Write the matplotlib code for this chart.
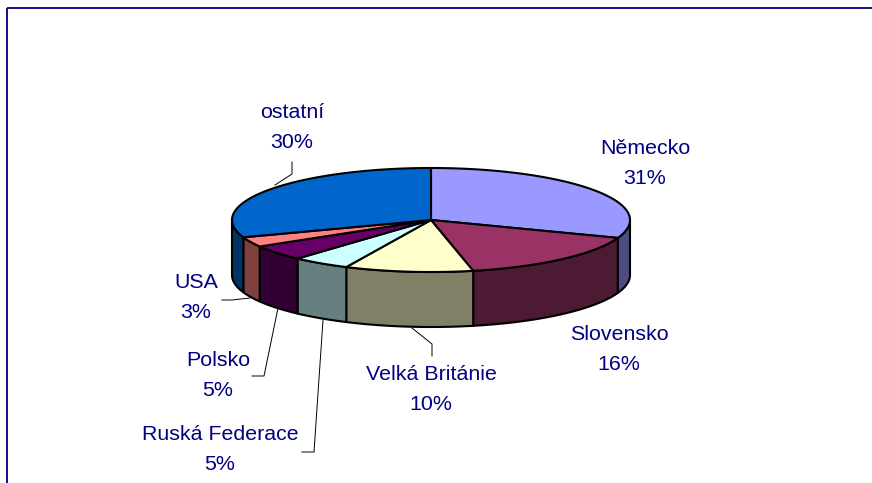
import numpy as np
import matplotlib
matplotlib.use("Agg")
import matplotlib.pyplot as plt
from matplotlib.patches import Polygon

plt.rcParams['font.family'] = ['Liberation Sans', 'DejaVu Sans']

categories = ["Německo", "Slovensko", "Velká Británie", "Ruská Federace", "Polsko", "USA", "ostatní"]
shares = [30.6, 16.0, 10.4, 4.7, 4.8, 3.1, 30.4]
top_colors = ["#9999FF", "#993366", "#FFFFCC", "#CCFFFF", "#660066", "#FF8080", "#0066CC"]
side_colors = ["#4D4D80", "#4D1A33", "#808066", "#668080", "#330033", "#804040", "#003366"]

# label centres in pixels
label_x = [645, 619, 431, 220, 218, 196, 292]
label_y = [148, 335, 375, 435, 360, 283, 112]

# leader lines, pixels
leaders = [
    [(432, 356), (432, 344), (412, 328)],
    [(302, 452), (314, 452), (323, 320)],
    [(252, 376), (264, 376), (278, 308)],
    [(222, 300), (232, 300), (250, 298)],
    [(292, 162), (292, 174), (275, 185)],
]

cx, cy = 431, 220
rx, ry = 199, 52
depth = 55
navy = "#000080"

fig = plt.figure(figsize=(8.72, 4.83), dpi=100)
ax = fig.add_axes([0, 0, 1, 1])
ax.set_xlim(0, 872)
ax.set_ylim(483, 0)
ax.axis("off")


def rim(a, b, dy=0):
    # angles in degrees, clockwise from the top of the ellipse
    t = np.radians(np.linspace(a, b, max(int(abs(b - a)) * 2, 2)))
    return np.column_stack([cx + rx * np.sin(t), cy - ry * np.cos(t) + dy])


edges = np.concatenate([[0], np.cumsum(shares)]) * 3.6

# border of the chart area
ax.plot([7, 7], [483, 8], color=navy, lw=1.3, solid_capstyle="butt")
ax.plot([7, 872], [8, 8], color=navy, lw=1.3, solid_capstyle="butt")

# visible wall of the pie
for a, b, color in zip(edges[:-1], edges[1:], side_colors):
    lo, hi = max(a, 90), min(b, 270)
    if lo >= hi:
        continue
    pts = np.vstack([rim(lo, hi), rim(lo, hi, depth)[::-1]])
    ax.add_patch(Polygon(pts, closed=True, fc=color, ec="black", lw=1.5, joinstyle="round"))

# top slices
for a, b, color in zip(edges[:-1], edges[1:], top_colors):
    pts = np.vstack([[(cx, cy)], rim(a, b)])
    ax.add_patch(Polygon(pts, closed=True, fc=color, ec="black", lw=1.5, joinstyle="round"))

for line in leaders:
    xs, ys = zip(*line)
    ax.plot(xs, ys, color="black", lw=0.7)

for name, share, x, y in zip(categories, shares, label_x, label_y):
    ax.text(x, y, name, color=navy, fontsize=15.4, ha="center", va="center")
    ax.text(x, y + 30, f"{share:.0f}%", color=navy, fontsize=15.4, ha="center", va="center")

fig.savefig("out.png", dpi=100)
